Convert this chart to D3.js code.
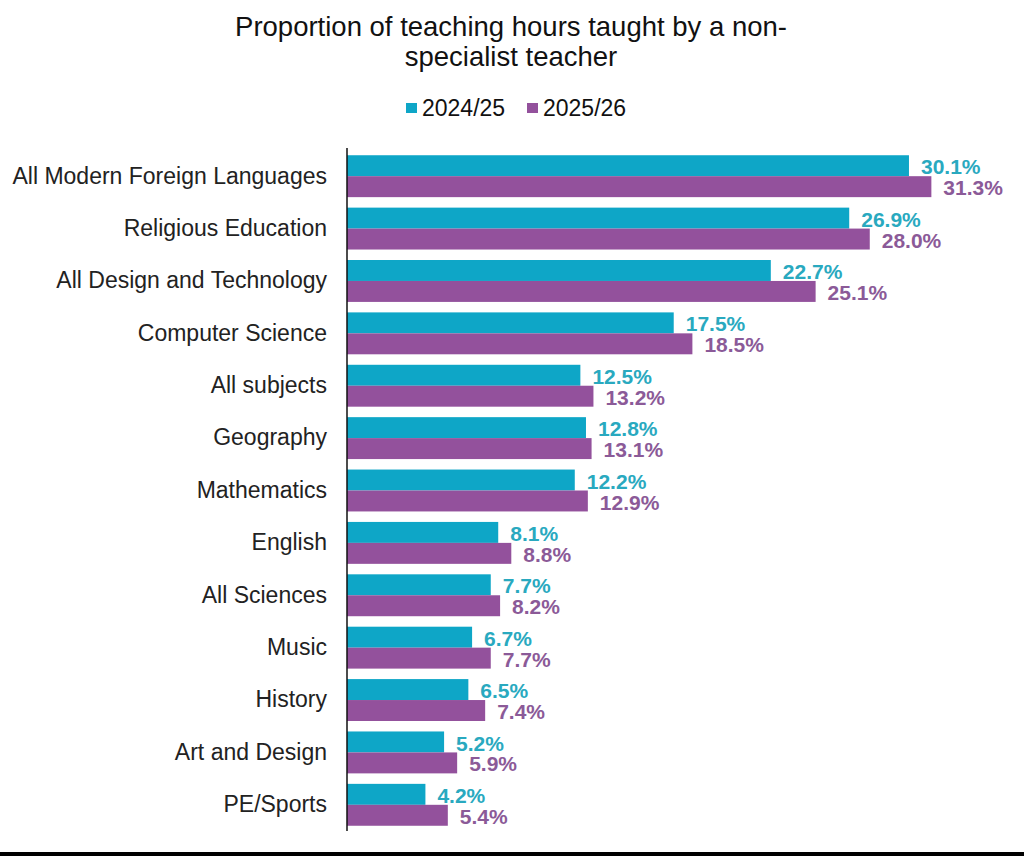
<!DOCTYPE html>
<html>
<head>
<meta charset="utf-8">
<script src="https://cdn.jsdelivr.net/npm/d3@7"></script>
<style>
  body { margin: 0; background: #fff; }
  svg { display: block; font-family: "Liberation Sans", Arial, sans-serif; }
</style>
</head>
<body>
<svg class="js-render-chart" width="1024" height="856"></svg>
<script>
"use strict";

//data

const subjects = [
  "All Modern Foreign Languages",
  "Religious Education",
  "All Design and Technology",
  "Computer Science",
  "All subjects",
  "Geography",
  "Mathematics",
  "English",
  "All Sciences",
  "Music",
  "History",
  "Art and Design",
  "PE/Sports"
];

const years = ["2024/25", "2025/26"];

const values2024 = [30.1, 26.9, 22.7, 17.5, 12.5, 12.8, 12.2, 8.1, 7.7, 6.7, 6.5, 5.2, 4.2];
const values2025 = [31.3, 28.0, 25.1, 18.5, 13.2, 13.1, 12.9, 8.8, 8.2, 7.7, 7.4, 5.9, 5.4];

//colours

const barColors = ["#0ea6c7", "#93519c"];
const labelColors = ["#29a9bf", "#8b5a98"];

//layout

const W = 1024;
const m = { t: 150, r: 40, b: 25, l: 347 };
const plotH = 856 - m.t - m.b;

const svg = d3.select(".js-render-chart");

const x = d3.scaleLinear()
  .domain([0, 1])
  .range([m.l, m.l + 18.67]);

const y = d3.scaleBand()
  .domain(subjects)
  .range([m.t, m.t + plotH])
  .paddingInner(0.2)
  .paddingOuter(0.1);

const sub = d3.scaleBand()
  .domain(years)
  .range([0, y.bandwidth()]);

const rows = subjects.map((s, i) => ({ s, v: [values2024[i], values2025[i]] }));

//title

svg.append("text")
  .attr("text-anchor", "middle")
  .attr("font-size", 27.5)
  .attr("fill", "#111")
  .selectAll("tspan")
  .data(["Proportion of teaching hours taught by a non-", "specialist teacher"])
  .join("tspan")
  .attr("x", 511)
  .attr("y", (d, i) => 36 + i * 30)
  .text(d => d);

//legend

const legend = svg.append("g")
  .selectAll("g")
  .data(years)
  .join("g")
  .attr("transform", (d, i) => `translate(${406 + i * 121}, 0)`);

legend.append("rect")
  .attr("y", 103)
  .attr("width", 11)
  .attr("height", 10)
  .attr("fill", (d, i) => barColors[i]);

legend.append("text")
  .attr("x", 16)
  .attr("y", 116)
  .attr("font-size", 23)
  .attr("fill", "#111")
  .text(d => d);

//bars

const group = svg.append("g")
  .selectAll("g")
  .data(rows)
  .join("g")
  .attr("transform", d => `translate(0, ${y(d.s)})`);

group.selectAll("rect")
  .data(d => d.v.map((v, i) => ({ v, i })))
  .join("rect")
  .attr("x", x(0))
  .attr("y", d => sub(years[d.i]))
  .attr("width", d => x(d.v) - x(0))
  .attr("height", sub.bandwidth())
  .attr("fill", d => barColors[d.i]);

group.selectAll("text.c-value")
  .data(d => d.v.map((v, i) => ({ v, i })))
  .join("text")
  .attr("class", "c-value")
  .attr("x", d => x(d.v) + 12)
  .attr("y", d => sub(years[d.i]) + sub.bandwidth() / 2 + 1)
  .attr("dy", "0.36em")
  .attr("font-size", 21)
  .attr("font-weight", "bold")
  .attr("fill", d => labelColors[d.i])
  .text(d => d.v.toFixed(1) + "%");

//axis

const ya = d3.axisLeft(y).tickSize(0).tickPadding(20);

svg.append("g")
  .attr("transform", `translate(${m.l}, 0)`)
  .call(ya)
  .call(g => g.select(".domain").attr("stroke", "#111").attr("stroke-width", 1.5).attr("d", `M0,${m.t - 2}V${m.t + plotH}`))
  .call(g => g.selectAll("text")
    .attr("font-size", 23)
    .attr("font-family", "Liberation Sans, Arial, sans-serif")
    .attr("fill", "#222"));

//bottom rule

svg.append("rect")
  .attr("x", 0)
  .attr("y", 852)
  .attr("width", W)
  .attr("height", 4)
  .attr("fill", "#000");
</script>
</body>
</html>
